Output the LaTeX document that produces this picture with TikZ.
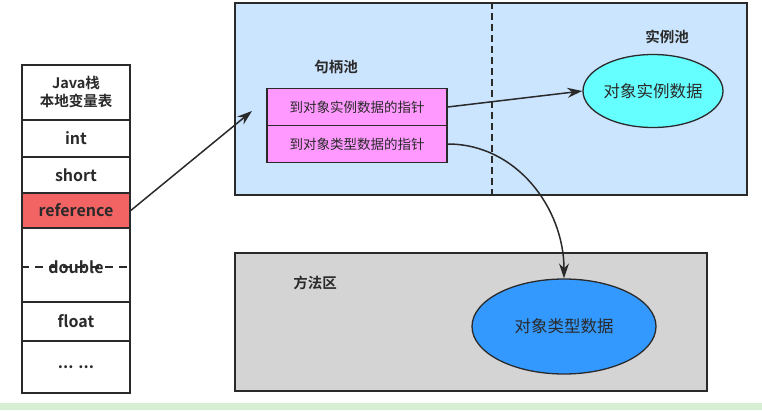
\documentclass[tikz,border=0pt]{standalone}
\usepackage{fontspec}
\setmainfont{Noto Sans CJK SC}[BoldFont={Noto Sans CJK SC Bold}]
\usetikzlibrary{shapes.geometric,arrows.meta}
\definecolor{refred}{HTML}{F26463}
\definecolor{heapblue}{HTML}{CCE5FF}
\definecolor{ptrpink}{HTML}{FF99FF}
\definecolor{instcyan}{HTML}{66FFFF}
\definecolor{typeblue}{HTML}{3399FF}
\definecolor{methgray}{HTML}{D4D4D4}
\definecolor{bargreen}{HTML}{D6EED3}
\definecolor{ink}{HTML}{2A2A2A}
\tikzset{
  cell/.style={draw=ink, line width=1.5pt, minimum width=108pt, inner sep=0pt, font=\fontsize{16}{18}\selectfont\bfseries, text=ink},
  ptr/.style={draw=ink, line width=1.3pt, fill=ptrpink, minimum width=180pt, minimum height=37pt, inner sep=0pt, font=\fontsize{13.5}{15}\selectfont, text=ink},
  area/.style={draw=ink, line width=1.3pt},
  blob/.style={ellipse, draw=ink, line width=1.3pt, inner sep=0pt, text=ink},
  lbl/.style={font=\fontsize{14.5}{16}\selectfont\bfseries, text=ink},
  conn/.style={draw=ink, line width=1.5pt, -{Stealth[length=15pt,width=10pt]}}
}
\begin{document}
\begin{tikzpicture}[x=1pt,y=-1pt]
\useasboundingbox (0,0) rectangle (762,410);
\fill[white] (0,0) rectangle (762,410);
\fill[bargreen] (0,403) rectangle (762,410);
% heap area
\node[area, fill=heapblue, minimum width=512pt, minimum height=192pt, inner sep=0pt] (heap) at (491,99) {};
\draw[ink, line width=1.5pt, dash pattern=on 7pt off 4pt] (heap.north -| 492,0) coordinate (dtop) -- (heap.south -| 492,0) coordinate (dbot);
\node[lbl] (handlelbl) at (336,67) {句柄池};
\node[lbl] (instlbl) at (667,37) {实例池};
\node[ptr] (p1) at (357,107) {到对象实例数据的指针};
\node[ptr] (p2) at (357,144) {到对象类型数据的指针};
\node[blob, fill=instcyan, minimum width=140pt, minimum height=73pt, font=\fontsize{16.5}{18}\selectfont] (inst) at (653,91) {对象实例数据};
% method area
\node[area, fill=methgray, minimum width=472pt, minimum height=138pt, inner sep=0pt] (meth) at (471,322) {};
\node[lbl] (methlbl) at (315,283) {方法区};
\node[blob, fill=typeblue, minimum width=184pt, minimum height=95pt, font=\fontsize{16.5}{18}\selectfont] (type) at (564,326.5) {对象类型数据};
% stack
\node[cell, minimum height=55pt, align=center, font=\fontsize{14.5}{18}\selectfont\bfseries] (hdr) at (76,92.5) {Java栈\\本地变量表};
\node[cell, minimum height=37pt] (int) at (76,138.5) {int};
\node[cell, minimum height=36pt] (short) at (76,175) {short};
\node[cell, fill=refred, minimum height=35pt] (ref) at (76,210.5) {reference};
\node[cell, minimum height=74pt] (dbl) at (76,265) {};
\draw[ink, line width=1.5pt, dash pattern=on 8pt off 6pt] (dbl.west |- 0,267) -- (dbl.east |- 0,267);
\node[font=\fontsize{16}{18}\selectfont\bfseries, text=ink] (dbltxt) at (76,267) {double};
\node[cell, minimum height=39pt] (flt) at (76,321.5) {float};
\node[cell, minimum height=52pt] (more) at (76,367) {... ...};
% connectors
\coordinate (refend) at (252,111);
\draw[conn] (ref.east) -- (refend);
\draw[conn] (p1.east) -- (inst.west);
\draw[conn] (p2.east) to[out=0,in=90] (type.north);
\end{tikzpicture}
\end{document}
